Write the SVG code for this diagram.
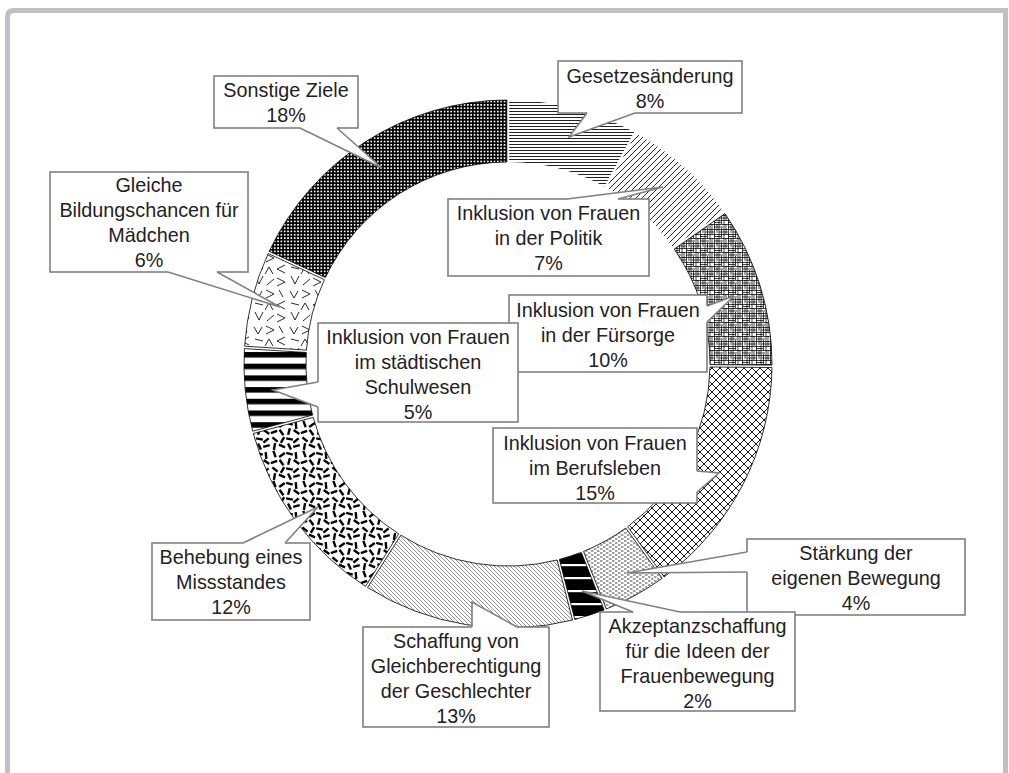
<svg xmlns="http://www.w3.org/2000/svg" width="1009" height="773" viewBox="0 0 1009 773">
<style>
.seg{stroke:#000;stroke-width:0.8}
.nol{stroke:none}
.box{fill:#fff;stroke:#808080;stroke-width:1.6}
.wedge{fill:#fff;stroke:none}
.wline{fill:none;stroke:#808080;stroke-width:1.6;stroke-linejoin:miter}
text{font-family:"Liberation Sans",Arial,sans-serif;font-size:19.8px;fill:#222;text-anchor:middle}
</style>
<defs>
<pattern id="pGesetz" width="8" height="3" patternUnits="userSpaceOnUse"><rect width="8" height="1" fill="#222"/></pattern>
<pattern id="pPolitik" width="6" height="6" patternUnits="userSpaceOnUse"><path d="M0,6 L6,0 M-1,1 L1,-1 M5,7 L7,5" stroke="#111" stroke-width="0.9"/></pattern>
<pattern id="pFursorge" width="14" height="14" patternUnits="userSpaceOnUse"><path d="M0.5,0 V14 M3,0 V9 M5,0 V14 M7.5,4 V14 M10,0 V14 M12,0 V10 M0,0.5 H14 M0,3 H9 M0,5.5 H14 M5,8 H14 M0,10.5 H14 M0,12.5 H7" stroke="#000" stroke-width="0.75"/></pattern>
<pattern id="pBeruf" width="8" height="8" patternUnits="userSpaceOnUse"><path d="M0,0 L8,8 M8,0 L0,8" stroke="#000" stroke-width="0.9"/></pattern>
<pattern id="pStark" width="6" height="4" patternUnits="userSpaceOnUse"><path d="M0,1 H2.5 M3,3 H5.5" stroke="#111" stroke-width="0.8"/></pattern>
<pattern id="pAkz" width="10" height="13" patternUnits="userSpaceOnUse"><rect width="10" height="13" fill="#000"/><rect y="5" width="10" height="2.2" fill="#fff"/></pattern>
<pattern id="pGleich" width="4" height="4" patternUnits="userSpaceOnUse"><path d="M0,0 L4,4 M-1,3 L1,5 M3,-1 L5,1" stroke="#444" stroke-width="0.6"/></pattern>
<pattern id="pBeheb" width="30" height="30" patternUnits="userSpaceOnUse"><path d="M3.34,0.8 L5.66,7.2 M9.21,6.95 L14.79,3.05 M16.22,2.92 L22.78,4.68 M25.71,2.11 L26.29,8.89 M0.8,13.16 L7.2,10.84 M9.55,9.71 L13.45,15.29 M18.12,14.78 L19.88,8.22 M23.71,10.05 L29.29,13.95 M2.4,17.32 L7.6,21.68 M10.8,22.94 L14.2,17.06 M16.15,18.41 L22.85,19.59 M23.4,22.68 L28.6,18.32 M3.91,29.85 L5.09,23.15 M8.92,24.56 L15.08,27.44 M18.06,23.42 L20.94,29.58 M23.22,26.88 L29.78,25.12" stroke="#000" stroke-width="2.4"/></pattern>
<pattern id="pSchul" width="10" height="11.7" patternUnits="userSpaceOnUse"><rect y="1" width="10" height="5.5" fill="#000"/></pattern>
<pattern id="pBild" width="36" height="36" patternUnits="userSpaceOnUse"><path d="M2,3 L6,10 L10,3 M14,2 L22,6 L14,10 M27,2 L31,9 M33,13 L25,17 L33,21 M3,15 L11,17 M13,22 L17,15 L21,22 M3,24 L7,32 L11,24 M15,33 L22,27 M25,26 L33,30 L25,34" fill="none" stroke="#111" stroke-width="0.9"/></pattern>
<pattern id="pSonst" width="3.33" height="3.33" patternUnits="userSpaceOnUse"><rect width="3.33" height="3.33" fill="#000"/><rect x="0.8" y="0.8" width="1.7" height="1.7" fill="#fff"/></pattern>
</defs>
<rect width="1009" height="773" fill="#fff"/>
<path d="M7.5,773 V17 Q7.5,10.5 14,10.5 H1005.5 V773" fill="none" stroke="#c0c0c4" stroke-width="5"/>

<g id="ring">
<path id="seg-gesetz" class="nol" fill="url(#pGesetz)" d="M509.2,100 A264,264 0 0 1 634.1,132.1 L604.3,186.4 A202,202 0 0 0 509.2,162 Z"/>
<path id="seg-politik" class="nol" fill="url(#pPolitik)" d="M636.2,133.2 A264,264 0 0 1 723.6,211.6 L672.8,247.2 A202,202 0 0 0 606.4,187.6 Z"/>
<path id="seg-fuersorge" class="seg" fill="url(#pFursorge)" d="M724.9,213.6 A264,264 0 0 1 772,365.1 L710,364.6 A202,202 0 0 0 674.2,249.1 Z"/>
<path id="seg-beruf" class="seg" fill="url(#pBeruf)" d="M772,367.5 A264,264 0 0 1 664.1,576.9 L627.7,526.7 A202,202 0 0 0 710,367 Z"/>
<path id="seg-staerkung" class="seg" fill="url(#pStark)" d="M662.2,578.3 A264,264 0 0 1 606.3,609 L583.5,551.4 A202,202 0 0 0 625.8,528.1 Z"/>
<path id="seg-akzeptanz" class="seg" fill="url(#pAkz)" d="M604.1,609.9 A264,264 0 0 1 574.8,619.4 L559.4,559.4 A202,202 0 0 0 581.3,552.3 Z"/>
<path id="seg-gleich" class="seg" fill="url(#pGleich)" d="M572.5,620 A264,264 0 0 1 367.6,587.5 L400.8,535.2 A202,202 0 0 0 557.1,560 Z"/>
<path id="seg-behebung" class="seg" fill="url(#pBeheb)" d="M365.5,586.3 A264,264 0 0 1 253.3,433.5 L313.2,417.4 A202,202 0 0 0 398.7,533.9 Z"/>
<path id="seg-schulwesen" class="seg" fill="url(#pSchul)" d="M252.7,431.2 A264,264 0 0 1 244.4,348.6 L306.3,352.5 A202,202 0 0 0 312.6,415.1 Z"/>
<path id="seg-bildung" class="seg" fill="url(#pBild)" d="M244.6,346.2 A264,264 0 0 1 268.2,253.5 L324.4,279.7 A202,202 0 0 0 306.4,350.1 Z"/>
<path id="seg-sonstige" class="seg" fill="url(#pSonst)" d="M269.2,251.3 A264,264 0 0 1 506.8,100 L506.8,162 A202,202 0 0 0 325.4,277.5 Z"/>
</g>

<g id="labels">
<g id="label-gesetz"><rect class="box" x="558" y="61" width="184" height="52"/><text x="650" y="83">Gesetzesänderung</text><text x="650" y="108">8%</text></g>
<g id="label-politik"><rect class="box" x="448" y="199" width="201" height="77"/><text x="548.5" y="220">Inklusion von Frauen</text><text x="548.5" y="245">in der Politik</text><text x="548.5" y="270">7%</text></g>
<g id="label-fuersorge"><rect class="box" x="509" y="295" width="198" height="77"/><text x="608" y="317">Inklusion von Frauen</text><text x="608" y="342">in der Fürsorge</text><text x="608" y="367">10%</text></g>
<g id="label-schulwesen"><rect class="box" x="318" y="323" width="200" height="99"/><text x="418" y="344">Inklusion von Frauen</text><text x="418" y="369">im städtischen</text><text x="418" y="394">Schulwesen</text><text x="418" y="419">5%</text></g>
<g id="label-beruf"><rect class="box" x="493" y="428" width="204" height="75"/><text x="595" y="450">Inklusion von Frauen</text><text x="595" y="475">im Berufsleben</text><text x="595" y="500">15%</text></g>
<g id="label-staerkung"><rect class="box" x="747" y="539" width="218" height="76"/><text x="856" y="560">Stärkung der</text><text x="856" y="585">eigenen Bewegung</text><text x="856" y="610">4%</text></g>
<g id="label-akzeptanz"><rect class="box" x="600" y="612" width="195" height="99"/><text x="697.5" y="633">Akzeptanzschaffung</text><text x="697.5" y="658">für die Ideen der</text><text x="697.5" y="683">Frauenbewegung</text><text x="697.5" y="708">2%</text></g>
<g id="label-gleich"><rect class="box" x="363" y="627" width="186" height="100"/><text x="456" y="648">Schaffung von</text><text x="456" y="673">Gleichberechtigung</text><text x="456" y="698">der Geschlechter</text><text x="456" y="723">13%</text></g>
<g id="label-behebung"><rect class="box" x="152" y="543" width="158" height="77"/><text x="231" y="564">Behebung eines</text><text x="231" y="589">Missstandes</text><text x="231" y="614">12%</text></g>
<g id="label-bildung"><rect class="box" x="50" y="172" width="198" height="100"/><text x="149" y="192">Gleiche</text><text x="149" y="217">Bildungschancen für</text><text x="149" y="242">Mädchen</text><text x="149" y="267">6%</text></g>
<g id="label-sonstige"><rect class="box" x="214" y="76" width="144" height="52"/><text x="286" y="97">Sonstige Ziele</text><text x="286" y="122">18%</text></g>
</g>

<g id="connectors">
<polygon class="wedge" points="587,111 587,113 569,137 635,113 635,111"/><polyline class="wline" points="587,113 569,137 635,113"/>
<polygon class="wedge" points="567,201 567,199 663,187 618,199 618,201"/><polyline class="wline" points="567,199 663,187 618,199"/>
<polygon class="wedge" points="705,306 707,306 734,296 707,322 705,322"/><polyline class="wline" points="707,306 734,296 707,322"/>
<polygon class="wedge" points="695,471 697,471 719,473 697,492 695,492"/><polyline class="wline" points="697,471 719,473 697,492"/>
<polygon class="wedge" points="749,552 747,552 627,573 747,572 749,572"/><polyline class="wline" points="747,552 627,573 747,572"/>
<polygon class="wedge" points="633,614 633,612 582,591 680,612 680,614"/><polyline class="wline" points="633,612 582,591 680,612"/>
<polygon class="wedge" points="472,629 472,627 472,602 517,627 517,629"/><polyline class="wline" points="472,627 472,602 517,627"/>
<polygon class="wedge" points="243,545 243,543 318,507 285,543 285,545"/><polyline class="wline" points="243,543 318,507 285,543"/>
<polygon class="wedge" points="320,382 318,382 273,390 318,407 320,407"/><polyline class="wline" points="318,382 273,390 318,407"/>
<polygon class="wedge" points="168,270 168,272 280,307 217,272 217,270"/><polyline class="wline" points="168,272 280,307 217,272"/>
<polygon class="wedge" points="300,126 300,128 382,168 337,128 337,126"/><polyline class="wline" points="300,128 382,168 337,128"/>
</g>
</svg>
